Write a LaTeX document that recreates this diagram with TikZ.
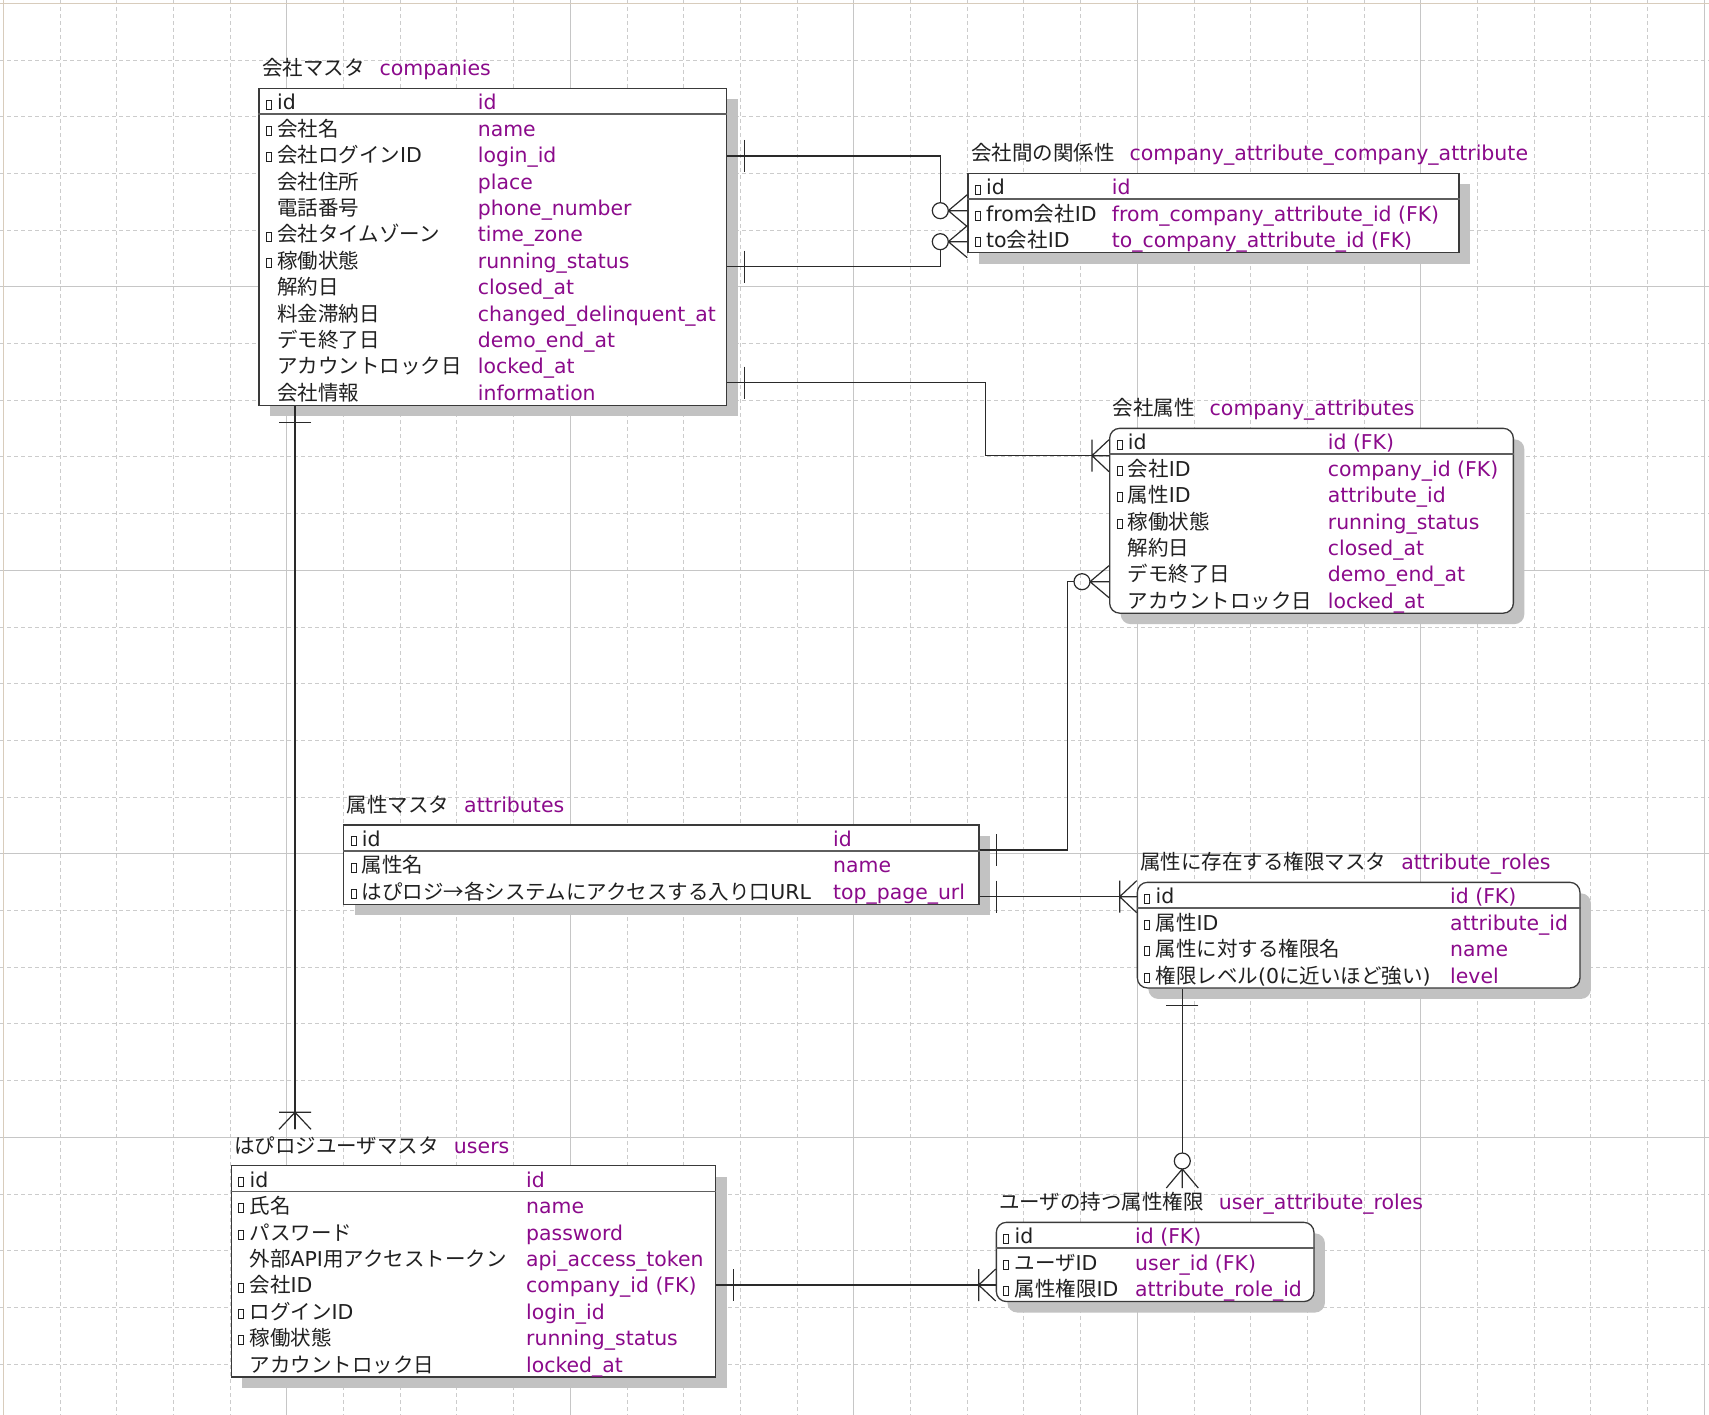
\documentclass[tikz,border=0pt]{standalone}
\usepackage{fontspec}
\setmainfont{DejaVu Sans}
\newfontfamily\jp{Noto Sans CJK JP}
\usetikzlibrary{calc,shadows}

\definecolor{gridc}{HTML}{CCCCCC}
\definecolor{gridmaj}{HTML}{C6C6C6}
\definecolor{framec}{HTML}{D8CCBC}
\definecolor{boxc}{HTML}{3A3A3A}
\definecolor{sepc}{HTML}{5E5E5E}
\definecolor{shadowc}{HTML}{C2C2C2}
\definecolor{physc}{HTML}{8B0A8B}
\definecolor{txtc}{HTML}{202020}
\definecolor{linec}{HTML}{2A2A2A}

\newcommand\latn[1]{{\rmfamily #1}}

\tikzset{
  ent/.style={draw=boxc, fill=white, line width=1.3pt, inner sep=0pt, anchor=north west,
    drop shadow={shadow xshift=11pt, shadow yshift=-11pt, fill=shadowc, opacity=1}},
  rent/.style={ent, rounded corners=10pt},
  lbl/.style={anchor=base west, inner sep=0pt, text=txtc, font=\jp\fontsize{20.5}{24}\selectfont},
  phys/.style={anchor=base west, inner sep=0pt, text=physc, font=\rmfamily\fontsize{20.4}{24}\selectfont},
  sepline/.style={draw=sepc, line width=1.7pt},
  keybox/.style={draw=txtc, line width=0.9pt},
  conn/.style={draw=linec, line width=1.2pt},
  gminor/.style={draw=gridc, line width=0.9pt, dash pattern=on 4pt off 3pt},
  gmajor/.style={draw=gridmaj, line width=1pt},
}

% one field row of an entity: table, row, key flag, column-2 offset, logical name, physical name
\newcommand\fld[6]{%
  \node[lbl] (#1-n#2) at ($(#1.north west)+(18.7,22.2+26.4*#2)$) {#5};
  \node[phys] (#1-c#2) at ($(#1.north west)+(#4,22.2+26.4*#2)$) {#6};
  \ifnum#3=1
    \draw[keybox] ($(#1.north west)+(8,12.4+26.4*#2)$) rectangle ++(5,9);
  \fi}
% header separator under the first row
\newcommand\hdr[1]{\draw[sepline] ($(#1.north west)+(0,26.4)$) -- ($(#1.north east)+(0,26.4)$);}
% relationship end marks (point on edge, direction angle)
\newcommand\onetick[2]{\begin{scope}[shift={(#1)}, rotate=#2]
  \draw[conn] (17,-16) -- (17,16);\end{scope}}
\newcommand\onemany[2]{\begin{scope}[shift={(#1)}, rotate=#2]
  \draw[conn] (-17,-16) -- (-17,16) (-17,0) -- (0,-16) (-17,0) -- (0,16) (-17,0) -- (0,0);\end{scope}}
\newcommand\zeromany[2]{\begin{scope}[shift={(#1)}, rotate=#2]
  \draw[conn] (-19,0) -- (0,-16) (-19,0) -- (0,16) (-19,0) -- (0,0);
  \draw[conn] (-27,0) circle[radius=8pt];\end{scope}}

\begin{document}
\begin{tikzpicture}[x=1pt, y=-1pt]
\useasboundingbox (0,0) rectangle (1709,1415);
\fill[white] (0,0) rectangle (1709,1415);

% background grid
\foreach \k in {1,...,30} \draw[gminor] ({3.3+56.7*\k},0) -- ({3.3+56.7*\k},1415);
\foreach \k in {1,...,24} \draw[gminor] (0,{3.3+56.7*\k}) -- (1709,{3.3+56.7*\k});
\foreach \k in {5,10,...,30} \draw[gmajor] ({3.3+56.7*\k},0) -- ({3.3+56.7*\k},1415);
\foreach \k in {5,10,15,20} \draw[gmajor] (0,{3.3+56.7*\k}) -- (1709,{3.3+56.7*\k});
\draw[framec, line width=1.2pt] (0,3.3) -- (1709,3.3) (3.3,0) -- (3.3,1415);

% ---------- companies ----------
\node[ent, minimum width=467.7pt, minimum height=316.8pt] (companies) at (258.3,87.7) {};
\node[lbl] (companies-t) at ($(companies.north west)+(3.5,-11.8)$) {会社マスタ\hspace{15pt}\textcolor{physc}{\rmfamily companies}};
\hdr{companies}
\fld{companies}{0}{1}{219.4}{\latn{id}}{id}
\fld{companies}{1}{1}{219.4}{会社名}{name}
\fld{companies}{2}{1}{219.4}{会社ログイン\latn{ID}}{login\_id}
\fld{companies}{3}{0}{219.4}{会社住所}{place}
\fld{companies}{4}{0}{219.4}{電話番号}{phone\_number}
\fld{companies}{5}{1}{219.4}{会社タイムゾーン}{time\_zone}
\fld{companies}{6}{1}{219.4}{稼働状態}{running\_status}
\fld{companies}{7}{0}{219.4}{解約日}{closed\_at}
\fld{companies}{8}{0}{219.4}{料金滞納日}{changed\_delinquent\_at}
\fld{companies}{9}{0}{219.4}{デモ終了日}{demo\_end\_at}
\fld{companies}{10}{0}{219.4}{アカウントロック日}{locked\_at}
\fld{companies}{11}{0}{219.4}{会社情報}{information}

% ---------- company_attribute_company_attribute ----------
\node[ent, minimum width=491pt, minimum height=79.2pt] (cacca) at (967.3,172.7) {};
\node[lbl] (cacca-t) at ($(cacca.north west)+(3.5,-11.8)$) {会社間の関係性\hspace{15pt}\textcolor{physc}{\rmfamily company\_attribute\_company\_attribute}};
\hdr{cacca}
\fld{cacca}{0}{1}{144.4}{\latn{id}}{id}
\fld{cacca}{1}{1}{144.4}{\latn{from}会社\latn{ID}}{from\_company\_attribute\_id (FK)}
\fld{cacca}{2}{1}{144.4}{\latn{to}会社\latn{ID}}{to\_company\_attribute\_id (FK)}

% ---------- company_attributes ----------
\node[rent, minimum width=403.7pt, minimum height=184.8pt] (ca) at (1109,427.7) {};
\node[lbl] (ca-t) at ($(ca.north west)+(3.5,-11.8)$) {会社属性\hspace{15pt}\textcolor{physc}{\rmfamily company\_attributes}};
\hdr{ca}
\fld{ca}{0}{1}{218.7}{\latn{id}}{id (FK)}
\fld{ca}{1}{1}{218.7}{会社\latn{ID}}{company\_id (FK)}
\fld{ca}{2}{1}{218.7}{属性\latn{ID}}{attribute\_id}
\fld{ca}{3}{1}{218.7}{稼働状態}{running\_status}
\fld{ca}{4}{0}{218.7}{解約日}{closed\_at}
\fld{ca}{5}{0}{218.7}{デモ終了日}{demo\_end\_at}
\fld{ca}{6}{0}{218.7}{アカウントロック日}{locked\_at}

% ---------- attributes ----------
\node[ent, minimum width=635.3pt, minimum height=79.2pt] (attributes) at (343,824.3) {};
\node[lbl] (attributes-t) at ($(attributes.north west)+(3.5,-11.8)$) {属性マスタ\hspace{15pt}\textcolor{physc}{\rmfamily attributes}};
\hdr{attributes}
\fld{attributes}{0}{1}{490}{\latn{id}}{id}
\fld{attributes}{1}{1}{490}{属性名}{name}
\fld{attributes}{2}{1}{490}{はぴロジ→各システムにアクセスする入り口\latn{URL}}{top\_page\_url}

% ---------- attribute_roles ----------
\node[rent, minimum width=442.6pt, minimum height=105.6pt] (ar) at (1136.7,881.7) {};
\node[lbl] (ar-t) at ($(ar.north west)+(3.5,-11.8)$) {属性に存在する権限マスタ\hspace{15pt}\textcolor{physc}{\rmfamily attribute\_roles}};
\hdr{ar}
\fld{ar}{0}{1}{313.3}{\latn{id}}{id (FK)}
\fld{ar}{1}{1}{313.3}{属性\latn{ID}}{attribute\_id}
\fld{ar}{2}{1}{313.3}{属性に対する権限名}{name}
\fld{ar}{3}{1}{313.3}{権限レベル\latn{(0}に近いほど強い\latn{)}}{level}

% ---------- users ----------
\node[ent, minimum width=484.3pt, minimum height=211.2pt] (users) at (230.7,1165) {};
\node[lbl] (users-t) at ($(users.north west)+(3.5,-11.8)$) {はぴロジユーザマスタ\hspace{15pt}\textcolor{physc}{\rmfamily users}};
\hdr{users}
\fld{users}{0}{1}{295.3}{\latn{id}}{id}
\fld{users}{1}{1}{295.3}{氏名}{name}
\fld{users}{2}{1}{295.3}{パスワード}{password}
\fld{users}{3}{0}{295.3}{外部\latn{API}用アクセストークン}{api\_access\_token}
\fld{users}{4}{1}{295.3}{会社\latn{ID}}{company\_id (FK)}
\fld{users}{5}{1}{295.3}{ログイン\latn{ID}}{login\_id}
\fld{users}{6}{1}{295.3}{稼働状態}{running\_status}
\fld{users}{7}{0}{295.3}{アカウントロック日}{locked\_at}

% ---------- user_attribute_roles ----------
\node[rent, minimum width=317.6pt, minimum height=79.2pt] (uar) at (995.7,1221.7) {};
\node[lbl] (uar-t) at ($(uar.north west)+(3.5,-11.8)$) {ユーザの持つ属性権限\hspace{15pt}\textcolor{physc}{\rmfamily user\_attribute\_roles}};
\hdr{uar}
\fld{uar}{0}{1}{139.3}{\latn{id}}{id (FK)}
\fld{uar}{1}{1}{139.3}{ユーザ\latn{ID}}{user\_id (FK)}
\fld{uar}{2}{1}{139.3}{属性権限\latn{ID}}{attribute\_role\_id}

% ---------- relationships ----------
% companies -> company_attribute_company_attribute (from / to)
\coordinate (s1) at (companies.east |- 0,156);
\coordinate (e1) at (cacca.west |- 0,210.7);
\draw[conn] (s1) -| ($(e1)+(-27,-8)$);
\onetick{s1}{0}
\zeromany{e1}{0}
\coordinate (s2) at (companies.east |- 0,266.7);
\coordinate (e2) at (cacca.west |- 0,241.7);
\draw[conn] (s2) -| ($(e2)+(-27,8)$);
\onetick{s2}{0}
\zeromany{e2}{0}

% companies -> company_attributes
\coordinate (s3) at (companies.east |- 0,382.6);
\coordinate (e3) at (ca.west |- 0,455.7);
\draw[conn] (s3) -- ++(258.2,0) |- (e3);
\onetick{s3}{0}
\onemany{e3}{0}

% attributes -> company_attributes
\coordinate (s4) at (attributes.east |- 0,850);
\coordinate (e4) at (ca.west |- 0,581.7);
\draw[conn] (s4) -- ++(87.7,0) |- ($(e4)+(-35,0)$);
\onetick{s4}{0}
\zeromany{e4}{0}

% attributes -> attribute_roles
\coordinate (s5) at (attributes.east |- 0,896.7);
\coordinate (e5) at (ar.west |- 0,896.7);
\draw[conn] (s5) -- (e5);
\onetick{s5}{0}
\onemany{e5}{0}

% attribute_roles -> user_attribute_roles
\coordinate (s6) at ($(ar.south west)+(45.6,0)$);
\coordinate (e6) at ($(uar.north west)+(186.6,-33.7)$);
\draw[conn] (s6) -- ($(e6)+(0,-35)$);
\onetick{s6}{-90}
\zeromany{e6}{-90}

% users -> user_attribute_roles
\coordinate (s7) at (users.east |- 0,1285);
\coordinate (e7) at (uar.west |- 0,1285);
\draw[conn] (s7) -- (e7);
\onetick{s7}{0}
\onemany{e7}{0}

% companies -> users
\coordinate (s8) at ($(companies.south west)+(36.7,0)$);
\coordinate (e8) at ($(users.north west)+(64.3,-35.7)$);
\draw[conn] (s8) -- (e8);
\onetick{s8}{-90}
\onemany{e8}{-90}
\end{tikzpicture}
\end{document}
